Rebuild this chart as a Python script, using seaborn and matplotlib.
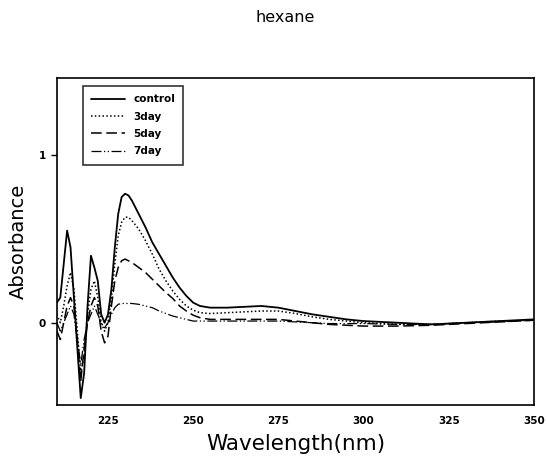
import numpy as np
import pandas as pd
import matplotlib
matplotlib.use("Agg")
import matplotlib.pyplot as plt
import seaborn as sns

# === Data ===
wavelength = [210, 211, 212, 213, 214, 215, 216, 217, 218, 219, 220, 221, 222,
              223, 224, 225, 226, 227, 228, 229, 230, 231, 232,
              234, 236, 238, 240, 242, 244, 246, 248, 250, 252,
              255, 260, 265, 270, 275, 280, 285, 290, 295, 300, 310, 320, 330, 340, 350]

control = [0.12, 0.15, 0.35, 0.55, 0.45, 0.15, -0.15, -0.45, -0.30, 0.10, 0.40, 0.33, 0.25,
           0.05, 0.0, 0.05, 0.20, 0.45, 0.65, 0.75, 0.77, 0.76, 0.73,
           0.65, 0.57, 0.48, 0.41, 0.34, 0.27, 0.21, 0.16, 0.12, 0.10,
           0.09, 0.09, 0.095, 0.10, 0.09, 0.07, 0.05, 0.035, 0.02, 0.01, 0.0, -0.01, 0.0, 0.01, 0.02]

day3 = [0.05, 0.0, 0.10, 0.22, 0.30, 0.20, -0.05, -0.30, -0.20, 0.05, 0.20, 0.25, 0.15,
        0.0, -0.05, 0.0, 0.15, 0.35, 0.52, 0.60, 0.63, 0.63, 0.61,
        0.56, 0.49, 0.41, 0.32, 0.25, 0.19, 0.14, 0.10, 0.075, 0.06,
        0.055, 0.06, 0.065, 0.07, 0.07, 0.055, 0.035, 0.02, 0.01, 0.0, -0.01, -0.01, 0.0, 0.01, 0.015]

day5 = [-0.05, -0.10, 0.0, 0.10, 0.15, 0.10, -0.10, -0.35, -0.15, 0.0, 0.10, 0.15, 0.10,
        -0.05, -0.12, -0.08, 0.10, 0.25, 0.33, 0.37, 0.38, 0.37, 0.36,
        0.33, 0.30, 0.26, 0.22, 0.18, 0.145, 0.10, 0.07, 0.045, 0.03,
        0.02, 0.02, 0.02, 0.02, 0.02, 0.01, 0.0, -0.01, -0.015, -0.02, -0.02, -0.015, -0.005, 0.005, 0.015]

day7 = [0.0, -0.05, 0.0, 0.05, 0.10, 0.05, -0.10, -0.25, -0.10, 0.0, 0.05, 0.10, 0.05,
        0.0, -0.03, 0.0, 0.05, 0.09, 0.11, 0.115, 0.115, 0.115, 0.115,
        0.11, 0.10, 0.09, 0.07, 0.055, 0.04, 0.03, 0.02, 0.01, 0.01,
        0.01, 0.01, 0.01, 0.01, 0.01, 0.005, 0.0, -0.005, -0.005, -0.005, -0.01, -0.01, 0.0, 0.005, 0.015]

series_names = ['control', '3day', '5day', '7day']
series_values = [control, day3, day5, day7]

# === Style ===
sns.set_style("white")
plt.rcParams['font.family'] = ['DejaVu Sans']
plt.rcParams['text.color'] = 'black'
plt.rcParams['axes.labelcolor'] = 'black'
plt.rcParams['xtick.color'] = 'black'
plt.rcParams['ytick.color'] = 'black'

line_styles = {
    'control': dict(linestyle='-', linewidth=1.3),
    '3day': dict(linestyle=(0, (1, 1.5)), linewidth=1.1),
    '5day': dict(linestyle=(0, (7, 3)), linewidth=1.1),
    '7day': dict(linestyle=(0, (8, 2, 1, 2, 1, 2)), linewidth=0.9),
}

fig = plt.figure(figsize=(5.47, 4.68), dpi=100)
ax = fig.add_axes([0.104, 0.135, 0.872, 0.698])

for name, vals in zip(series_names, series_values):
    df = pd.DataFrame({'wavelength': wavelength, 'absorbance': vals})
    sns.lineplot(data=df, x='wavelength', y='absorbance', ax=ax, color='black',
                 label=name, **line_styles[name])

ax.set_xlim(210, 350)
ax.set_ylim(-0.49, 1.46)
ax.set_xticks([225, 250, 275, 300, 325, 350])
ax.set_yticks([0, 1])
ax.set_yticklabels(['0', '1'])
ax.tick_params(axis='x', direction='in', length=4, width=1, labelsize=7.5, pad=8)
ax.tick_params(axis='y', direction='out', length=4, width=1, labelsize=7.5, pad=4, left=True)
for lab in ax.get_xticklabels() + ax.get_yticklabels():
    lab.set_fontweight('bold')

for sp in ax.spines.values():
    sp.set_color('black')
    sp.set_linewidth(1.2)

ax.set_xlabel('Wavelength(nm)', fontsize=15.5, labelpad=6)
ax.set_ylabel('Absorbance', fontsize=14, labelpad=8)

leg = ax.legend(loc='upper left', bbox_to_anchor=(0.055, 0.976), borderaxespad=0,
                frameon=True, fancybox=False, edgecolor='black', fontsize=7.5,
                handlelength=3.2, borderpad=0.8, labelspacing=0.7, handletextpad=0.8)
leg.get_frame().set_linewidth(1.2)
for t in leg.get_texts():
    t.set_fontweight('bold')
    t.set_color('black')

fig.text(0.522, 0.962, 'hexane', ha='center', va='center', fontsize=11.5)

fig.savefig('out.png', dpi=100)
